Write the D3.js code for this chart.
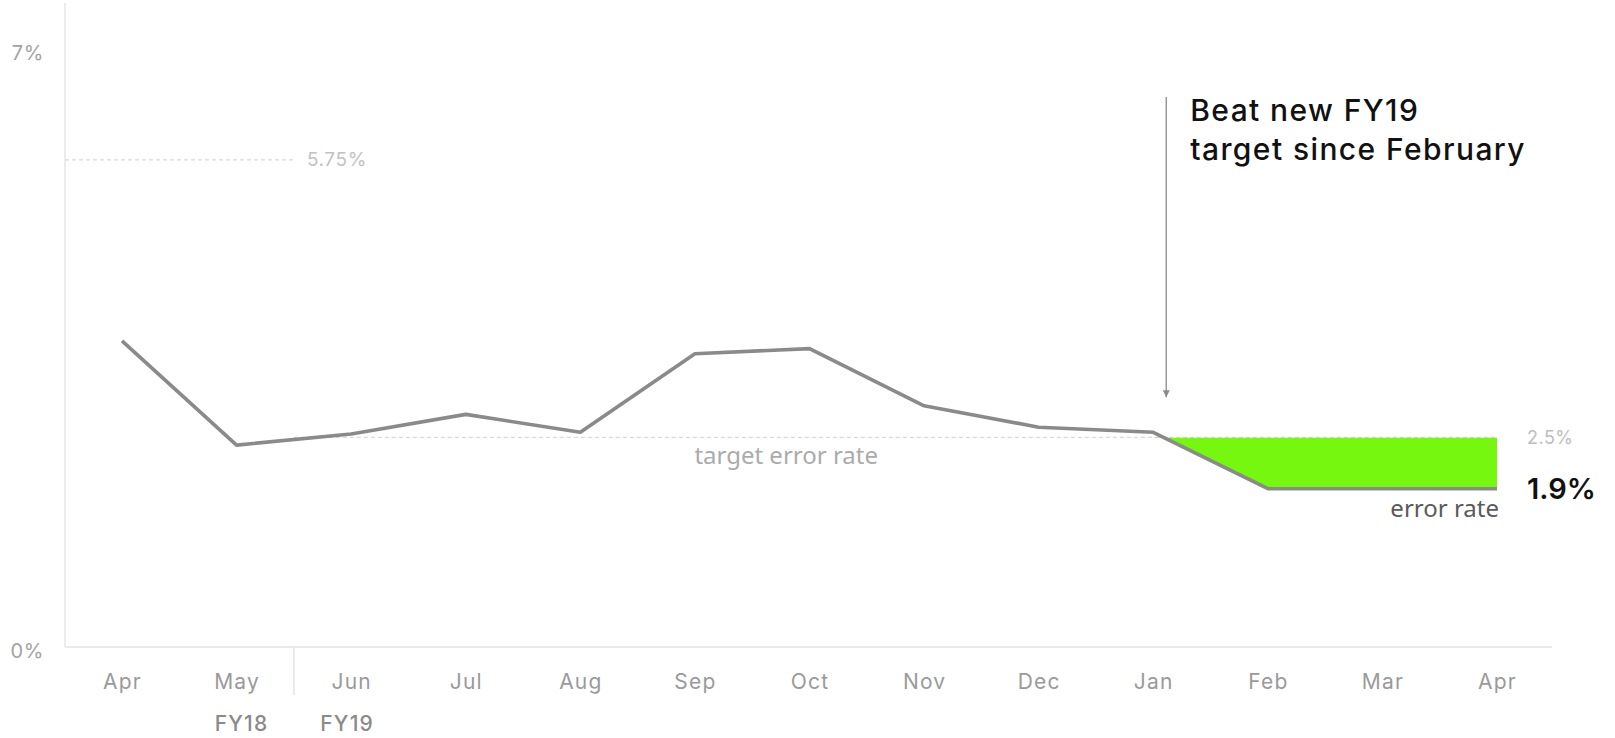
<!DOCTYPE html>
<html>
<head>
<meta charset="utf-8">
<script src="https://cdn.jsdelivr.net/npm/d3@7"></script>
<style>
  html, body { margin: 0; padding: 0; background: #fff; }
  svg { display: block; }
  text { font-family: Inter, "Noto Sans", sans-serif; }
</style>
</head>
<body>
<svg id="chart" width="1615" height="738"></svg>
<script>
// Monthly error rate, Apr (FY18) through Apr (FY19)
const months = ["Apr", "May", "Jun", "Jul", "Aug", "Sep", "Oct", "Nov", "Dec", "Jan", "Feb", "Mar", "Apr"];
const errorRate = [3.63, 2.41, 2.54, 2.77, 2.56, 3.48, 3.54, 2.87, 2.62, 2.56, 1.9, 1.9, 1.9];
const yTicks = [0, 7];
const fy18Target = 5.75;
const fy19Target = 2.5;
const fiscalYears = ["FY18", "FY19"];
const highlightStart = 9; // Jan: beating the target from here on

const plot = { left: 65, right: 1552, top: 3, bottom: 647 };

const svg = d3.select("#chart");

const x = d3.scaleLinear().domain([0, months.length - 1]).range([122, 1497]);
const y = d3.scaleLinear().domain([0, 7]).range([651, 53]);

const gray = "#8a8a8a";

// Axes frame
svg.append("line")
  .attr("x1", plot.left).attr("x2", plot.left)
  .attr("y1", plot.top).attr("y2", plot.bottom)
  .attr("stroke", "#e6e6e6").attr("stroke-width", 1.5);
svg.append("line")
  .attr("x1", plot.left).attr("x2", plot.right)
  .attr("y1", plot.bottom).attr("y2", plot.bottom)
  .attr("stroke", "#e3e3e3").attr("stroke-width", 1.5);

// Y axis labels
const yAxis = d3.axisLeft(y).tickValues(yTicks).tickSize(0).tickPadding(21)
  .tickFormat(d => d + "%");
const gy = svg.append("g").attr("transform", `translate(${plot.left},0)`).call(yAxis);
gy.select(".domain").remove();
gy.selectAll("text")
  .attr("dy", "0.3em")
  .style("font-family", "Inter, sans-serif")
  .style("font-size", "20px")
  .style("letter-spacing", "0.6px")
  .attr("fill", "#a3a3a3");

// X axis labels
const xAxis = d3.axisBottom(x).tickValues(d3.range(months.length)).tickSize(0).tickPadding(27)
  .tickFormat(i => months[i]);
const gx = svg.append("g").attr("transform", `translate(0,${plot.bottom})`).call(xAxis);
gx.select(".domain").remove();
gx.selectAll("text")
  .style("font-family", "Inter, sans-serif")
  .style("font-size", "21px")
  .style("letter-spacing", "1.2px")
  .attr("fill", "#9a9a9a");

// Fiscal year divider between May and Jun
const divX = (x(1) + x(2)) / 2;
svg.append("line")
  .attr("x1", divX).attr("x2", divX)
  .attr("y1", plot.bottom).attr("y2", plot.bottom + 48)
  .attr("stroke", "#e3e3e3").attr("stroke-width", 1.5);

svg.selectAll(".fy").data(fiscalYears).join("text")
  .attr("class", "fy")
  .attr("x", (d, i) => i === 0 ? x(1) + 5 : x(2) - 4)
  .attr("y", plot.bottom + 84)
  .attr("text-anchor", "middle")
  .style("font-size", "21px")
  .style("font-weight", 500)
  .style("letter-spacing", "1.2px")
  .attr("fill", "#8a8a8a")
  .text(d => d);

// Target lines
svg.append("line")
  .attr("x1", plot.left).attr("x2", divX)
  .attr("y1", y(fy18Target)).attr("y2", y(fy18Target))
  .attr("stroke", "#d9d9d9").attr("stroke-width", 1.2).attr("stroke-dasharray", "4,3");
svg.append("text")
  .attr("x", divX + 13).attr("y", y(fy18Target)).attr("dy", "0.35em")
  .style("font-size", "19px").style("letter-spacing", "0.6px").attr("fill", "#c2c2c2")
  .text(fy18Target + "%");

svg.append("line")
  .attr("x1", divX).attr("x2", x(months.length - 1))
  .attr("y1", y(fy19Target)).attr("y2", y(fy19Target))
  .attr("stroke", "#d9d9d9").attr("stroke-width", 1.2).attr("stroke-dasharray", "4,3");
svg.append("text")
  .attr("x", x(months.length - 1) + 30).attr("y", y(fy19Target)).attr("dy", "0.35em")
  .style("font-size", "18px").style("letter-spacing", "0.5px").attr("fill", "#bdbdbd")
  .text(fy19Target + "%");

svg.append("text")
  .attr("x", (x(5) + x(6)) / 2 + 34).attr("y", y(fy19Target) + 27)
  .attr("text-anchor", "middle")
  .style("font-family", "'Noto Sans', 'Open Sans', sans-serif")
  .style("font-size", "24px").attr("fill", "#ababab")
  .text("target error rate");

// Area where the error rate is below the FY19 target
const tail = d3.range(highlightStart, months.length);
svg.append("clipPath").attr("id", "belowTarget")
  .append("rect")
  .attr("x", x(highlightStart)).attr("y", y(fy19Target))
  .attr("width", x(months.length - 1) - x(highlightStart))
  .attr("height", plot.bottom - y(fy19Target));
svg.append("path")
  .datum(tail)
  .attr("clip-path", "url(#belowTarget)")
  .attr("fill", "#76f70f")
  .attr("d", d3.area().x(i => x(i)).y0(y(fy19Target)).y1(i => y(errorRate[i])));

// Error rate line
svg.append("path")
  .datum(errorRate)
  .attr("fill", "none")
  .attr("stroke", gray)
  .attr("stroke-width", 3.6)
  .attr("stroke-linejoin", "round")
  .attr("d", d3.line().x((d, i) => x(i)).y(d => y(d)));

const last = errorRate.length - 1;
svg.append("text")
  .attr("x", x(last) + 2).attr("y", y(errorRate[last]) + 28)
  .attr("text-anchor", "end")
  .style("font-family", "'Noto Sans', 'Open Sans', sans-serif")
  .style("font-size", "24px").attr("fill", "#5a5a5a")
  .text("error rate");
svg.append("text")
  .attr("x", x(last) + 30).attr("y", y(errorRate[last])).attr("dy", "0.36em")
  .style("font-size", "29px").style("font-weight", 600).attr("fill", "#111")
  .text(errorRate[last] + "%");

// Annotation arrow pointing at January
svg.append("defs").append("marker")
  .attr("id", "arrow").attr("viewBox", "0 0 10 10")
  .attr("refX", 10).attr("refY", 5)
  .attr("markerWidth", 7).attr("markerHeight", 7)
  .attr("markerUnits", "userSpaceOnUse")
  .attr("orient", "auto")
  .append("path").attr("d", "M0,0 L10,5 L0,10 Z").attr("fill", "#8a8a8a");
const arrowX = x(highlightStart) + 13;
svg.append("line")
  .attr("x1", arrowX).attr("x2", arrowX)
  .attr("y1", 97).attr("y2", y(errorRate[highlightStart]) - 35)
  .attr("stroke", "#8a8a8a").attr("stroke-width", 1.3)
  .attr("marker-end", "url(#arrow)");

const note = svg.append("text")
  .attr("x", arrowX + 24).attr("y", 121)
  .style("font-size", "30px").style("font-weight", 500)
  .style("letter-spacing", "1.4px").attr("fill", "#111");
note.append("tspan").attr("x", arrowX + 24).text("Beat new FY19");
note.append("tspan").attr("x", arrowX + 24).attr("dy", 39).text("target since February");
</script>
</body>
</html>
